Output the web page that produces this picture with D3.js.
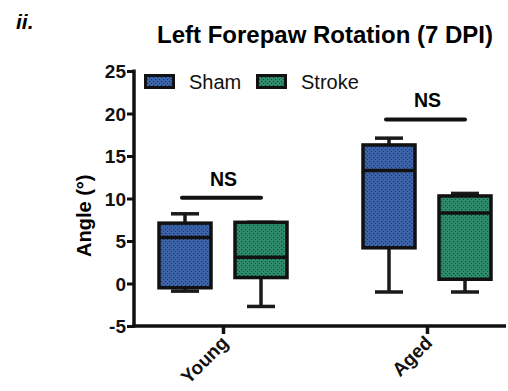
<!DOCTYPE html>
<html>
<head>
<meta charset="utf-8">
<script src="https://cdn.jsdelivr.net/npm/d3@7"></script>
<style>
  body { margin: 0; background: #fff; }
  svg { display: block; font-family: "Liberation Sans", Arial, sans-serif; }
</style>
</head>
<body>
<svg id="chart" width="508" height="391"></svg>
<script>
// ---- data ----
const groups = ["Young", "Aged"];
const series = ["Sham", "Stroke"];
// [min, q1, median, q3, max]
const shamStats = [[-0.9, -0.5, 5.4, 7.1, 8.2], [-1.0, 4.2, 13.3, 16.3, 17.1]];
const strokeStats = [[-2.7, 0.7, 3.1, 7.2, 7.2], [-1.0, 0.5, 8.3, 10.3, 10.6]];
const yTicks = [-5, 0, 5, 10, 15, 20, 25];
const sigLabels = ["NS", "NS"];
const sigLevels = [10.1, 19.3];
const title = "Left Forepaw Rotation (7 DPI)";
const panelLabel = "ii.";
const yLabel = "Angle (°)";

const fills = { Sham: "#3d64a8", Stroke: "#2e8b6c" };
const dots = { Sham: "#1b3468", Stroke: "#174a38" };

const svg = d3.select("#chart");
const defs = svg.append("defs");
series.forEach(s => {
  const p = defs.append("pattern").attr("id", "pat-" + s)
    .attr("patternUnits", "userSpaceOnUse").attr("width", 4).attr("height", 4);
  p.append("rect").attr("width", 4).attr("height", 4).attr("fill", fills[s]);
  p.append("rect").attr("x", 1).attr("y", 1).attr("width", 1.2).attr("height", 1.2).attr("fill", dots[s]);
  p.append("rect").attr("x", 3).attr("y", 3).attr("width", 1.2).attr("height", 1.2).attr("fill", dots[s]);
});

const y = d3.scaleLinear().domain([-5, 25]).range([326, 71]);
const x = d3.scalePoint().domain(groups).range([223, 427]);
const xs = d3.scaleBand().domain(series).range([-76, 76]);
const boxW = 52, capW = 28;
const axisX = 134, axisEnd = 506;

// title
svg.append("text").attr("x", 16).attr("y", 29).attr("font-size", 21)
  .attr("font-weight", "bold").attr("font-style", "italic").text(panelLabel);
svg.append("text").attr("x", 325).attr("y", 43).attr("text-anchor", "middle")
  .attr("font-size", 24).attr("font-weight", "bold").text(title);

// y axis
const yAxis = d3.axisLeft(y).tickValues(yTicks).tickSize(7).tickPadding(1).tickFormat(d => String(d));
const gy = svg.append("g").attr("transform", `translate(${axisX},0)`).call(yAxis);
gy.select(".domain").attr("stroke", "#111").attr("stroke-width", 3.5).attr("d", `M0,${y(25)-1.5}V${y(-5)+1.5}`);
gy.selectAll(".tick line").attr("stroke", "#111").attr("stroke-width", 3);
gy.selectAll(".tick text").attr("font-size", 19).attr("font-weight", "bold")
  .attr("fill", "#111").attr("font-family", "Liberation Sans, Arial, sans-serif").attr("dy", "0.36em");

// x axis
const xAxis = d3.axisBottom(x).tickSize(8).tickFormat("");
const gx = svg.append("g").attr("transform", `translate(0,${y(-5)})`).call(xAxis);
gx.select(".domain").attr("stroke", "#111").attr("stroke-width", 3.5).attr("d", `M${axisX-1.5},0H${axisEnd}`);
gx.selectAll(".tick line").attr("stroke", "#111").attr("stroke-width", 3.5);
gx.selectAll(".tick").append("text")
  .attr("transform", "translate(6,18) rotate(-45)")
  .attr("text-anchor", "end").attr("font-size", 19).attr("font-weight", "bold").attr("fill", "#111")
  .attr("font-family", "Liberation Sans, Arial, sans-serif")
  .text(d => d);

// y label
svg.append("text").attr("transform", `translate(91,${(y(15)+y(0))/2 - 4}) rotate(-90)`)
  .attr("text-anchor", "middle").attr("font-size", 20).attr("font-weight", "bold").text(yLabel);

// boxes
const allStats = { Sham: shamStats, Stroke: strokeStats };
series.forEach(s => {
  groups.forEach((g, i) => {
    const st = allStats[s][i];
    const cx = x(g) + xs(s) + xs.bandwidth() / 2;
    const gg = svg.append("g");
    gg.append("line").attr("x1", cx).attr("x2", cx).attr("y1", y(st[0])).attr("y2", y(st[1]))
      .attr("stroke", "#1a1a1a").attr("stroke-width", 3.5);
    gg.append("line").attr("x1", cx).attr("x2", cx).attr("y1", y(st[3])).attr("y2", y(st[4]))
      .attr("stroke", "#1a1a1a").attr("stroke-width", 3.5);
    [st[0], st[4]].forEach(v => {
      gg.append("line").attr("x1", cx - capW / 2).attr("x2", cx + capW / 2)
        .attr("y1", y(v)).attr("y2", y(v)).attr("stroke", "#1a1a1a").attr("stroke-width", 3.5);
    });
    gg.append("rect").attr("x", cx - boxW / 2).attr("y", y(st[3]))
      .attr("width", boxW).attr("height", y(st[1]) - y(st[3]))
      .attr("fill", `url(#pat-${s})`).attr("stroke", "#111").attr("stroke-width", 3.5);
    gg.append("line").attr("x1", cx - boxW / 2).attr("x2", cx + boxW / 2)
      .attr("y1", y(st[2])).attr("y2", y(st[2])).attr("stroke", "#111").attr("stroke-width", 3.5);
  });
});

// significance bars
groups.forEach((g, i) => {
  const x1 = x(g) + xs("Sham") + xs.bandwidth() / 2 - 3;
  const x2 = x(g) + xs("Stroke") + xs.bandwidth() / 2;
  svg.append("line").attr("x1", x1).attr("x2", x2).attr("y1", y(sigLevels[i])).attr("y2", y(sigLevels[i]))
    .attr("stroke", "#111").attr("stroke-width", 4).attr("stroke-linecap", "round");
  svg.append("text").attr("x", (x1 + x2) / 2 + 2).attr("y", y(sigLevels[i]) - 12)
    .attr("text-anchor", "middle").attr("font-size", 19.5).attr("font-weight", "bold").text(sigLabels[i]);
});

// legend
const legX = [144, 256];
series.forEach((s, i) => {
  svg.append("rect").attr("x", legX[i] + 1.5).attr("y", 75.5).attr("width", 28).attr("height", 12)
    .attr("fill", `url(#pat-${s})`).attr("stroke", "#111").attr("stroke-width", 3);
  svg.append("text").attr("x", legX[i] + 45).attr("y", 88.5).attr("font-size", 20).attr("fill", "#111").text(s);
});
</script>
</body>
</html>
